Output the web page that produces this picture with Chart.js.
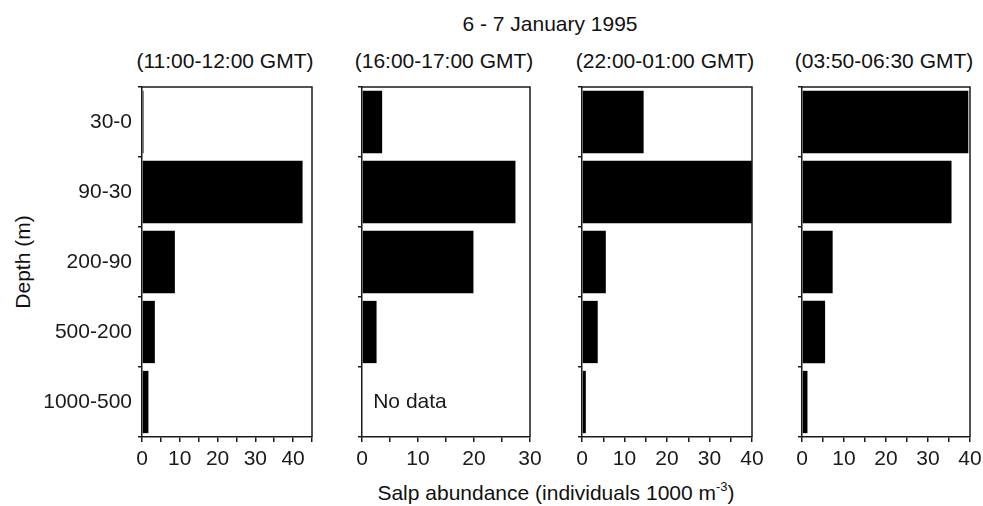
<!DOCTYPE html>
<html>
<head>
<meta charset="utf-8">
<script src="https://cdn.jsdelivr.net/npm/chart.js@4"></script>
<style>
  body { margin: 0; background: #fff; width: 983px; height: 506px; position: relative; overflow: hidden;
         font-family: "Liberation Sans", Arial, sans-serif; color: #111; }
  canvas { position: absolute; }
  .txt { position: absolute; font-size: 21px; white-space: nowrap; transform: translate(-50%, -50%); }
  .ytitle { transform: translate(-50%, -50%) rotate(-90deg); }
  sup { font-size: 13px; vertical-align: 9px; line-height: 0; }
</style>
</head>
<body>
<div class="txt" style="left:550px; top:24px;">6 - 7 January 1995</div>
<div class="txt ytitle" style="left:23px; top:262px;">Depth (m)</div>
<div class="txt" style="left:556px; top:493px;">Salp abundance (individuals 1000 m<sup>-3</sup>)</div>

<script>
// datos
const depths = ['30-0', '90-30', '200-90', '500-200', '1000-500'];
const periods = ['(11:00-12:00 GMT)', '(16:00-17:00 GMT)', '(22:00-01:00 GMT)', '(03:50-06:30 GMT)'];
const salp1 = [0.4, 42.5, 8.7, 3.4, 1.7];
const salp2 = [3.6, 27.4, 19.9, 2.6, null];
const salp3 = [14.5, 40, 5.6, 3.7, 0.9];
const salp4 = [39.6, 35.6, 7.3, 5.5, 1.3];
const xMax = [45, 30, 40, 40];
const noDataLabel = 'No data';

const series = [salp1, salp2, salp3, salp4];
const panels = [[142, 312], [362, 530], [582, 752], [802, 970]]; // borde izq/der del area
const TOP = 87, BOTTOM = 437, CANVAS_TOP = 80, PAD_TOP = TOP - CANVAS_TOP, X_H = 38, PAD_R = 13;
const INK = '#1a1a1a';
const FONT = { size: 21, family: '"Liberation Sans", Arial, sans-serif' };

function noPad(s) { s.paddingTop = 0; s.paddingBottom = 0; s.paddingLeft = 0; s.paddingRight = 0; }

// marco completo (arriba y derecha) + texto "No data"
const framePlugin = {
    id: 'frame',
    afterDraw(chart) {
        const a = chart.chartArea, ctx = chart.ctx;
        ctx.save();
        ctx.strokeStyle = INK;
        ctx.lineWidth = 1.5;
        ctx.beginPath();
        ctx.moveTo(a.left, a.top); ctx.lineTo(a.right, a.top); ctx.lineTo(a.right, a.bottom);
        ctx.stroke();
        const d = chart.data.datasets[0].data;
        d.forEach((v, i) => {
            if (v === null) {
                ctx.fillStyle = INK;
                ctx.font = '21px "Liberation Sans", Arial, sans-serif';
                ctx.textBaseline = 'middle';
                ctx.fillText(noDataLabel, chart.scales.x.getPixelForValue(2), chart.scales.y.getPixelForValue(i));
            }
        });
        ctx.restore();
    }
};

panels.forEach((p, k) => {
    const yw = k === 0 ? p[0] : 20;
    const left = p[0] - yw;
    const w = yw + (p[1] - p[0]) + PAD_R;
    const h = PAD_TOP + (BOTTOM - TOP) + X_H;

    const sub = document.createElement('div');
    sub.className = 'txt';
    sub.style.left = ((p[0] + p[1]) / 2 - 2) + 'px';
    sub.style.top = '61px';
    sub.textContent = periods[k];
    document.body.appendChild(sub);

    const c = document.createElement('canvas');
    c.style.left = left + 'px';
    c.style.top = CANVAS_TOP + 'px';
    c.style.width = w + 'px';
    c.style.height = h + 'px';
    c.width = w; c.height = h;
    document.body.appendChild(c);

    new Chart(c, {
        type: 'bar',
        data: { labels: depths, datasets: [{ data: series[k], backgroundColor: '#000', borderWidth: 0,
                barPercentage: 0.89, categoryPercentage: 1 }] },
        options: {
            indexAxis: 'y', responsive: false, animation: false,
            layout: { padding: { top: PAD_TOP, right: PAD_R, left: 0, bottom: 0 } },
            plugins: { legend: { display: false }, tooltip: { enabled: false } },
            scales: {
                y: {
                    grid: { offset: true, drawOnChartArea: false, tickLength: 4, color: INK, lineWidth: 1.5 },
                    border: { color: INK, width: 1.5 },
                    ticks: { display: k === 0, color: INK, padding: 6, font: FONT },
                    afterFit(s) { s.width = yw; noPad(s); }
                },
                x: {
                    min: 0, max: xMax[k],
                    grid: { drawOnChartArea: false, tickLength: 5, color: INK, lineWidth: 1.5 },
                    border: { color: INK, width: 1.5 },
                    ticks: { stepSize: 5, autoSkip: false, maxRotation: 0, color: INK, padding: 5, font: FONT,
                             callback: v => (v % 10 === 0 ? v : '') },
                    afterFit(s) { s.height = X_H; noPad(s); }
                }
            }
        },
        plugins: [framePlugin]
    });
});
</script>
</body>
</html>
